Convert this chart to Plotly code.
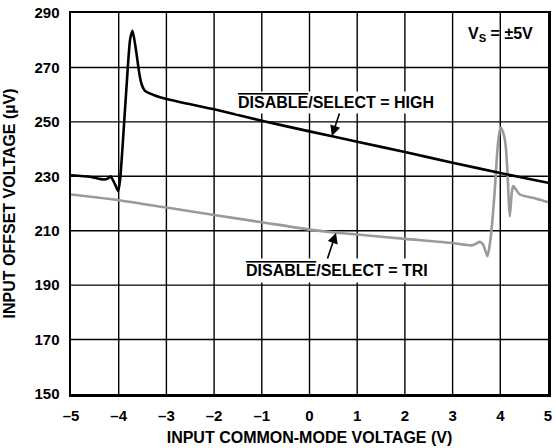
import plotly.graph_objects as go

# Data: DISABLE/SELECT = HIGH (black)
high_x = [-5.0, -4.6, -4.32, -4.22, -4.17, -4.11, -4.06, -4.01, -3.97, -3.90, -3.83, -3.76,
          -3.71, -3.64, -3.57, -3.52, -3.45, -3.27, -3.0, -2.0, -1.0, 0.0, 1.0, 2.0, 3.0, 4.0, 5.0]
high_y = [230.4, 229.8, 228.8, 229.2, 230.0, 228.2, 226.4, 224.5, 228.8, 246.0, 264.5, 280.4,
          283.5, 276.7, 268.0, 263.8, 261.4, 259.9, 258.4, 254.6, 250.4, 246.5, 242.7, 238.9, 235.0, 231.2, 227.6]

# Data: DISABLE/SELECT = TRI (gray)
tri_x = [-5.0, -4.0, -3.0, -2.0, -1.0, 0.0, 0.5, 1.0, 2.0, 3.0, 3.4, 3.5, 3.57, 3.64, 3.73,
         3.78, 3.84, 3.89, 3.94, 3.98, 4.01, 4.08, 4.12, 4.15, 4.20, 4.24, 4.27, 4.41, 4.7, 5.0]
tri_y = [223.3, 221.2, 218.5, 215.8, 213.1, 210.4, 209.4, 208.6, 207.0, 205.5, 204.6, 205.3, 205.9, 204.9, 200.6,
         205.0, 214.9, 226.4, 239.9, 246.0, 247.9, 244.8, 239.9, 231.3, 215.3, 223.9, 226.4, 223.3, 222.0, 220.5]

x_ticks = [-5, -4, -3, -2, -1, 0, 1, 2, 3, 4, 5]
x_tick_labels = ["–5", "–4", "–3", "–2", "–1", "0", "1", "2", "3", "4", "5"]
y_ticks = [150, 170, 190, 210, 230, 250, 270, 290]
y_tick_labels = ["150", "170", "190", "210", "230", "250", "270", "290"]

FONT = "Liberation Sans, Arial, Helvetica, sans-serif"

fig = go.Figure()
fig.add_trace(go.Scatter(x=tri_x, y=tri_y, mode="lines",
                         line=dict(color="#9a9a9a", width=2.6, shape="spline", smoothing=0.6),
                         hoverinfo="skip", showlegend=False))
fig.add_trace(go.Scatter(x=high_x, y=high_y, mode="lines",
                         line=dict(color="black", width=2.6, shape="spline", smoothing=0.6),
                         hoverinfo="skip", showlegend=False))

# Grid lines drawn at the tick positions
shapes = []
for xv in x_ticks[1:-1]:
    shapes.append(dict(type="line", xref="x", yref="paper", x0=xv, x1=xv, y0=0, y1=1,
                       line=dict(color="black", width=1.4), layer="below"))
for yv in y_ticks[1:-1]:
    shapes.append(dict(type="line", xref="paper", yref="y", x0=0, x1=1, y0=yv, y1=yv,
                       line=dict(color="black", width=1.4), layer="below"))

OV = '<span style="text-decoration:overline">DISABLE</span>'
AFONT = dict(size=16, color="black", family=FONT, weight="bold")

annotations = [
    dict(x=0.545, y=257.0, xref="x", yref="y", text=OV + "/SELECT = HIGH", showarrow=False,
         bgcolor="white", borderpad=2, font=AFONT),
    dict(x=0.57, y=195.3, xref="x", yref="y", text=OV + "/SELECT = TRI", showarrow=False,
         bgcolor="white", borderpad=3, font=AFONT),
    dict(x=0.47, y=244.8, xref="x", yref="y", text="", showarrow=True, ax=8, ay=-24,
         arrowhead=2, arrowsize=1.3, arrowwidth=1.6, arrowcolor="black"),
    dict(x=0.556, y=209.2, xref="x", yref="y", text="", showarrow=True, ax=-9, ay=27,
         arrowhead=2, arrowsize=1.3, arrowwidth=1.6, arrowcolor="black"),
    dict(x=4.0, y=282.0, xref="x", yref="y", text="V<sub>S</sub> = ±5V", showarrow=False,
         font=AFONT),
]

fig.update_layout(
    width=556, height=448,
    margin=dict(l=71, r=8, t=13, b=54),
    paper_bgcolor="white", plot_bgcolor="white",
    font=dict(family=FONT, size=15, color="black", weight="bold"),
    annotations=annotations,
    shapes=shapes,
    xaxis=dict(range=[-5, 5], tickvals=x_ticks, ticktext=x_tick_labels,
               showgrid=False,
               showline=True, linecolor="black", linewidth=2.5, mirror=True,
               zeroline=False, ticks="", ticklabelstandoff=6, ticklabeloverflow="allow",
               title=dict(text="INPUT COMMON-MODE VOLTAGE (V)", standoff=10,
                          font=dict(size=16, family=FONT, weight="bold")),
               automargin=False, fixedrange=True),
    yaxis=dict(range=[150, 290], tickvals=y_ticks, ticktext=y_tick_labels,
               showgrid=False,
               showline=True, linecolor="black", linewidth=2.5, mirror=True,
               zeroline=False, ticks="", ticklabelstandoff=6, ticklabeloverflow="allow",
               title=dict(text="INPUT OFFSET VOLTAGE (µV)", standoff=15,
                          font=dict(size=16, family=FONT, weight="bold")),
               automargin=False, fixedrange=True),
)

fig.write_html("out.html", config={"displayModeBar": False, "staticPlot": True},
               post_script="document.body.style.margin='0';document.body.style.overflow='hidden';")
